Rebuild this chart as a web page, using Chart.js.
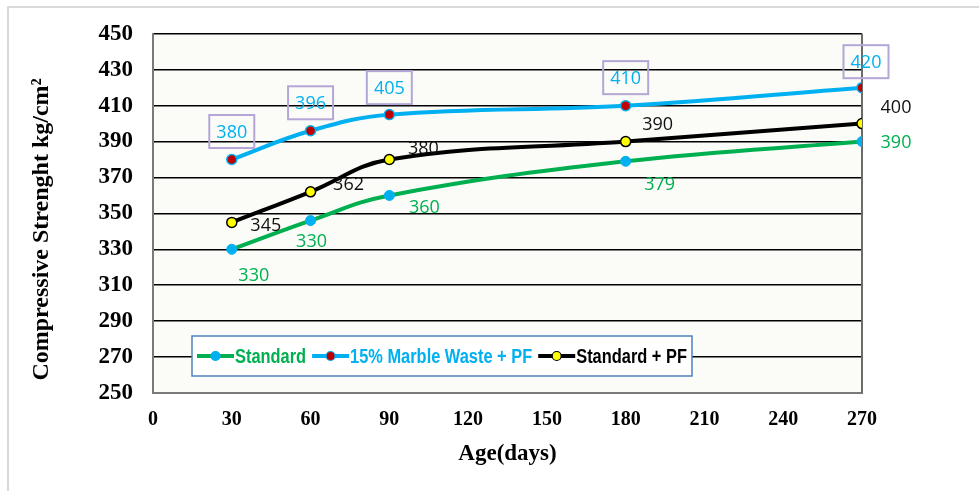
<!DOCTYPE html>
<html lang="en">
<head>
    <meta charset="UTF-8">
    <script src="https://cdn.jsdelivr.net/npm/chart.js"></script>
    <style>
        html, body { margin: 0; padding: 0; background: #fff; }
        #wrap { width: 979px; height: 491px; position: relative; }
    </style>
</head>
<body>
    <div id="wrap"><canvas id="chart"></canvas></div>

    <script>
        const ages = [30, 60, 90, 180, 270];
        const standard = [330, 346, 360, 379, 390];
        const marblePF = [380, 396, 405, 410, 420];
        const standardPF = [345, 362, 380, 390, 400];
        // value labels as printed on the original
        const standardLabels = ['330', '330', '360', '379', '390'];
        const marblePFLabels = ['380', '396', '405', '410', '420'];
        const standardPFLabels = ['345', '362', '380', '390', '400'];

        const GREEN = '#00b050', CYAN = '#00b0f0', RED = '#c00000', YELLOW = '#ffff00';

        // label offsets from each point, in px
        const labelOffsets = [
            [[22, 26], [1, 20], [35, 11], [34, 23], [34, 0]],
            [[0, -28], [0, -28], [0, -27], [0, -28], [4, -26]],
            [[34, 2], [38, -8], [34, -12], [32, -18], [34, -17]]
        ];
        const labelTexts = [standardLabels, marblePFLabels, standardPFLabels];
        const labelColors = [GREEN, CYAN, '#111'];

        const toXY = (vals) => vals.map((v, i) => ({ x: ages[i], y: v }));

        const framePlugin = {
            id: 'frame',
            beforeDraw(chart) {
                const c = chart.ctx, a = chart.chartArea;
                c.save();
                c.fillStyle = '#fff';
                c.fillRect(0, 0, chart.width, chart.height);
                c.fillStyle = '#fbfbf7';
                c.fillRect(a.left, a.top, a.right - a.left, a.bottom - a.top);
                // outer light border (top and left only)
                c.strokeStyle = '#d9d9d9';
                c.lineWidth = 2;
                c.beginPath();
                c.moveTo(8, chart.height);
                c.lineTo(8, 7);
                c.lineTo(chart.width, 7);
                c.stroke();
                c.restore();
            },
            beforeDatasetsDraw(chart) {
                const c = chart.ctx, a = chart.chartArea;
                c.save();
                c.strokeStyle = '#6b6b6b';
                c.lineWidth = 2;
                c.beginPath();
                c.moveTo(a.right, a.top);
                c.lineTo(a.right, a.bottom);
                c.stroke();
                c.restore();
            },
            afterDraw(chart) {
                const c = chart.ctx, a = chart.chartArea;
                c.save();
                // y axis title, drawn by hand to sit a bit low like the original
                c.translate(42, (a.top + a.bottom) / 2 + 16);
                c.rotate(-Math.PI / 2);
                c.font = 'bold 24px "Liberation Serif"';
                c.fillStyle = '#000';
                c.textAlign = 'center';
                c.textBaseline = 'middle';
                c.fillText('Compressive Strenght kg/cm\u00b2', 0, 0);
                c.restore();

                // legend box inside the plot
                const lx = a.left + 39, ly = a.bottom - 57, lw = 500, lh = 40;
                c.save();
                c.fillStyle = '#fff';
                c.fillRect(lx, ly, lw, lh);
                c.strokeStyle = '#4f81bd';
                c.lineWidth = 1.5;
                c.strokeRect(lx, ly, lw, lh);
                const items = [
                    { text: 'Standard', line: GREEN, fill: CYAN, border: CYAN, color: GREEN },
                    { text: '15% Marble Waste + PF', line: CYAN, fill: RED, border: CYAN, color: CYAN },
                    { text: 'Standard + PF', line: '#000', fill: YELLOW, border: '#000', color: '#000' }
                ];
                c.font = 'bold 20px "Liberation Sans", Arial, sans-serif';
                c.textBaseline = 'middle';
                const squeeze = 0.82;  // condensed look of the original font
                let x = lx + 5;
                const cy = ly + lh / 2;
                items.forEach(it => {
                    c.strokeStyle = it.line;
                    c.lineWidth = 4;
                    c.beginPath();
                    c.moveTo(x, cy);
                    c.lineTo(x + 37, cy);
                    c.stroke();
                    c.beginPath();
                    c.arc(x + 18.5, cy, 4.5, 0, Math.PI * 2);
                    c.fillStyle = it.fill;
                    c.fill();
                    c.lineWidth = 1.2;
                    c.strokeStyle = it.border;
                    c.stroke();
                    c.fillStyle = it.color;
                    c.save();
                    c.translate(x + 38, cy + 1);
                    c.scale(squeeze, 1);
                    c.fillText(it.text, 0, 0);
                    c.restore();
                    x += 38 + c.measureText(it.text).width * squeeze + 6;
                });
                c.restore();
            },
            afterDatasetsDraw(chart) {
                const c = chart.ctx;
                c.save();
                c.font = '18px "Open Sans", sans-serif';
                c.textAlign = 'center';
                c.textBaseline = 'middle';
                chart.data.datasets.forEach((ds, di) => {
                    const meta = chart.getDatasetMeta(di);
                    meta.data.forEach((pt, i) => {
                        const [dx, dy] = labelOffsets[di][i];
                        const tx = pt.x + dx, ty = pt.y + dy;
                        if (di === 1) {
                            c.strokeStyle = '#b4a7d6';
                            c.lineWidth = 2;
                            c.strokeRect(tx - 22.5, ty - 16.5, 45, 33);
                        }
                        c.fillStyle = labelColors[di];
                        c.fillText(labelTexts[di][i], tx, ty + 1);
                    });
                });
                c.restore();
            }
        };

        const ctx = document.getElementById('chart').getContext('2d');
        const chart = new Chart(ctx, {
            type: 'line',
            data: {
                datasets: [{
                    label: 'Standard',
                    data: toXY(standard),
                    borderColor: GREEN,
                    borderWidth: 4,
                    pointBackgroundColor: CYAN,
                    pointBorderColor: CYAN,
                    pointBorderWidth: 1,
                    pointRadius: 5,
                    tension: 0.4
                }, {
                    label: '15% Marble Waste + PF',
                    data: toXY(marblePF),
                    borderColor: CYAN,
                    borderWidth: 4,
                    pointBackgroundColor: RED,
                    pointBorderColor: CYAN,
                    pointBorderWidth: 1.5,
                    pointRadius: 5,
                    tension: 0.4
                }, {
                    label: 'Standard + PF',
                    data: toXY(standardPF),
                    borderColor: '#000',
                    borderWidth: 4,
                    pointBackgroundColor: YELLOW,
                    pointBorderColor: '#000',
                    pointBorderWidth: 1.5,
                    pointRadius: 5,
                    tension: 0.4
                }]
            },
            options: {
                responsive: true,
                maintainAspectRatio: false,
                animation: false,
                layout: { padding: { left: 0, right: 117, top: 32, bottom: 0 } },
                plugins: {
                    legend: { display: false },
                    tooltip: { enabled: false }
                },
                scales: {
                    x: {
                        type: 'linear',
                        min: 0,
                        max: 270,
                        ticks: {
                            stepSize: 30,
                            color: '#000',
                            padding: 15,
                            font: { family: '"Liberation Serif"', size: 20, weight: 'bold' }
                        },
                        grid: { display: false, drawTicks: false },
                        border: { color: '#7a7a7a', width: 2 },
                        title: {
                            display: true,
                            text: 'Age(days)',
                            color: '#000',
                            padding: { top: 0, bottom: 23 },
                            font: { family: '"Liberation Serif"', size: 23, weight: 'bold' }
                        },
                        afterFit(scale) { scale.height = 98; }
                    },
                    y: {
                        min: 250,
                        max: 450,
                        ticks: {
                            stepSize: 20,
                            color: '#000',
                            padding: 20,
                            font: { family: '"Liberation Serif"', size: 23, weight: 'bold' }
                        },
                        grid: {
                            drawTicks: false,
                            color: (c) => c.tick && c.tick.value === 250 ? '#7a7a7a' : '#000',
                            lineWidth: 1.5
                        },
                        border: { color: '#7a7a7a', width: 2 },
                        afterFit(scale) { scale.width = 153; }
                    }
                }
            },
            plugins: [framePlugin]
        });
    </script>
</body>
</html>
